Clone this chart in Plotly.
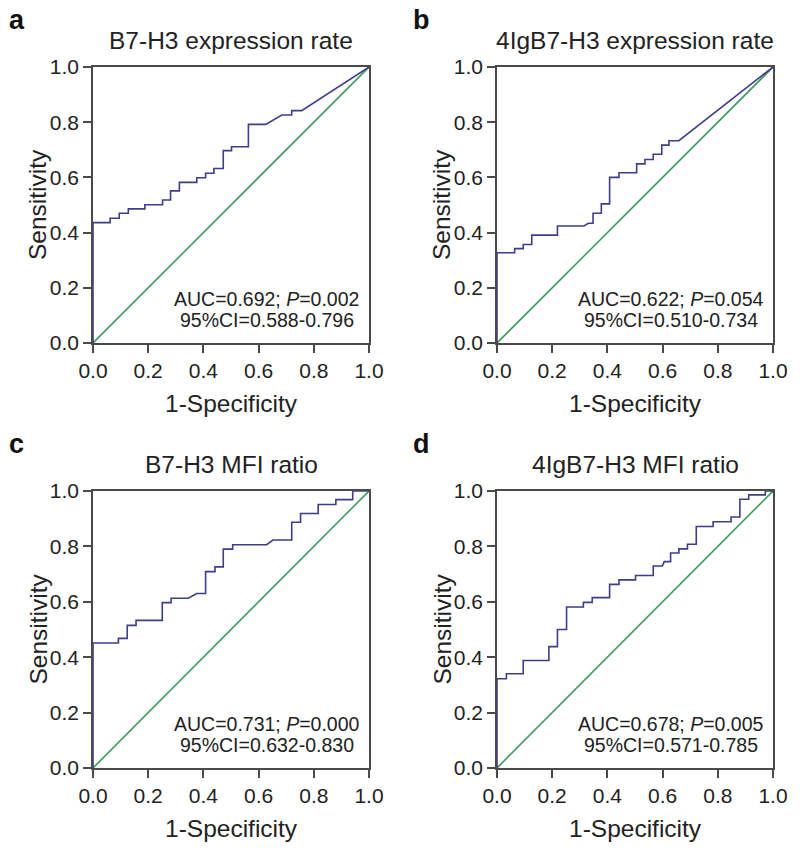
import plotly.graph_objects as go

OFF = 0                      # body margin removed via post_script
W, H = 800, 849

panel_letters = ["a", "b", "c", "d"]
panel_titles = ["B7-H3 expression rate", "4IgB7-H3 expression rate",
                "B7-H3 MFI ratio", "4IgB7-H3 MFI ratio"]
auc_texts = ["AUC=0.692; <i>P</i>=0.002", "AUC=0.622; <i>P</i>=0.054",
             "AUC=0.731; <i>P</i>=0.000", "AUC=0.678; <i>P</i>=0.005"]
ci_texts = ["95%CI=0.588-0.796", "95%CI=0.510-0.734",
            "95%CI=0.632-0.830", "95%CI=0.571-0.785"]
tick_vals = [0.0, 0.2, 0.4, 0.6, 0.8, 1.0]
tick_labels = ["0.0", "0.2", "0.4", "0.6", "0.8", "1.0"]
x_title = "1-Specificity"
y_title = "Sensitivity"

# ROC curve vertices (1-Specificity, Sensitivity)
a_fpr = [0, 0, 0.062, 0.062, 0.095, 0.095, 0.128, 0.128, 0.188, 0.188, 0.252, 0.252,
         0.281, 0.281, 0.313, 0.313, 0.376, 0.376, 0.408, 0.408, 0.438, 0.438, 0.472,
         0.472, 0.502, 0.502, 0.563, 0.563, 0.626, 0.684, 0.720, 0.720, 0.756, 1.0]
a_tpr = [0, 0.436, 0.436, 0.452, 0.452, 0.470, 0.470, 0.486, 0.486, 0.501, 0.501, 0.518,
         0.518, 0.551, 0.551, 0.582, 0.582, 0.599, 0.599, 0.615, 0.615, 0.632, 0.632,
         0.697, 0.697, 0.711, 0.711, 0.792, 0.792, 0.826, 0.826, 0.842, 0.842, 1.0]

b_fpr = [0, 0, 0.064, 0.064, 0.095, 0.095, 0.126, 0.126, 0.219, 0.219, 0.315, 0.331,
         0.348, 0.348, 0.378, 0.378, 0.408, 0.408, 0.442, 0.442, 0.506, 0.506, 0.536,
         0.536, 0.566, 0.566, 0.597, 0.597, 0.623, 0.623, 0.659, 1.0]
b_tpr = [0, 0.327, 0.327, 0.342, 0.342, 0.357, 0.357, 0.391, 0.391, 0.424, 0.424, 0.434,
         0.434, 0.470, 0.470, 0.504, 0.504, 0.600, 0.600, 0.617, 0.617, 0.649, 0.649,
         0.665, 0.665, 0.684, 0.684, 0.717, 0.717, 0.733, 0.733, 1.0]

c_fpr = [0, 0, 0.092, 0.092, 0.124, 0.124, 0.156, 0.156, 0.251, 0.251, 0.283, 0.283,
         0.345, 0.376, 0.376, 0.408, 0.408, 0.442, 0.442, 0.472, 0.472, 0.506, 0.506,
         0.629, 0.652, 0.720, 0.720, 0.752, 0.752, 0.816, 0.816, 0.880, 0.880, 0.941,
         0.941, 1.0]
c_tpr = [0, 0.451, 0.451, 0.468, 0.468, 0.515, 0.515, 0.533, 0.533, 0.597, 0.597, 0.613,
         0.613, 0.630, 0.630, 0.630, 0.709, 0.709, 0.726, 0.726, 0.790, 0.790, 0.806,
         0.806, 0.823, 0.823, 0.887, 0.887, 0.919, 0.919, 0.951, 0.951, 0.969, 0.969,
         1.0, 1.0]

d_fpr = [0, 0, 0.034, 0.034, 0.095, 0.095, 0.188, 0.188, 0.219, 0.219, 0.252, 0.252,
         0.313, 0.313, 0.345, 0.345, 0.408, 0.408, 0.442, 0.442, 0.502, 0.502, 0.566,
         0.566, 0.599, 0.606, 0.629, 0.629, 0.659, 0.659, 0.690, 0.690, 0.722, 0.722,
         0.783, 0.783, 0.848, 0.848, 0.880, 0.880, 0.912, 0.912, 0.972, 0.972, 1.0]
d_tpr = [0, 0.322, 0.322, 0.340, 0.340, 0.388, 0.388, 0.438, 0.438, 0.500, 0.500, 0.581,
         0.581, 0.598, 0.598, 0.615, 0.615, 0.663, 0.663, 0.679, 0.679, 0.695, 0.695,
         0.729, 0.729, 0.745, 0.745, 0.776, 0.776, 0.791, 0.791, 0.808, 0.808, 0.872,
         0.872, 0.889, 0.889, 0.906, 0.906, 0.970, 0.970, 0.986, 0.986, 1.0, 1.0]

ref_x = [0, 1]
ref_y = [0, 1]

curves = [(a_fpr, a_tpr), (b_fpr, b_tpr), (c_fpr, c_tpr), (d_fpr, d_tpr)]

# plot-area pixel boxes in window pixels: (left, right, top, bottom)
boxes = [(93, 369, 67, 343), (497, 773, 67, 343),
         (93, 369, 491, 768), (497, 773, 491, 768)]

CURVE = "#3d3d8a"
DIAG = "#3f9a5e"
AXIS = "#4a4a4a"
FONT = "Liberation Sans, Arial, sans-serif"

fig = go.Figure()
layout = dict(width=W, height=H,
              margin=dict(l=0, r=0, t=0, b=0, pad=0, autoexpand=False),
              paper_bgcolor="white", plot_bgcolor="white", showlegend=False,
              font=dict(family=FONT, color="#222222"))
annotations = []


def px(x):
    return (x - OFF) / W


def py(y):
    return 1 - (y - OFF) / H


for i, ((fx, ty), (l, r, t, b)) in enumerate(zip(curves, boxes)):
    n = "" if i == 0 else str(i + 1)
    xa, ya = "x" + n, "y" + n
    fig.add_trace(go.Scatter(x=ref_x, y=ref_y, mode="lines", xaxis=xa, yaxis=ya,
                             line=dict(color=DIAG, width=1.6), hoverinfo="skip"))
    fig.add_trace(go.Scatter(x=fx, y=ty, mode="lines", xaxis=xa, yaxis=ya,
                             line=dict(color=CURVE, width=1.6)))
    axis_common = dict(range=[0, 1], tickvals=tick_vals, ticktext=tick_labels,
                       showgrid=False, zeroline=False, showline=True, mirror=True,
                       linecolor=AXIS, linewidth=1.5, ticks="outside", ticklen=8,
                       tickwidth=1.5, tickcolor=AXIS, automargin=False,
                       tickfont=dict(size=21, family=FONT, color="#222222"),
                       fixedrange=True)
    layout["xaxis" + n] = dict(axis_common, domain=[px(l), px(r)], anchor=ya)
    layout["yaxis" + n] = dict(axis_common, domain=[py(b), py(t)], anchor=xa)
    cx = (l + r) / 2
    cy = (t + b) / 2
    # title
    annotations.append(dict(text=panel_titles[i], x=px(cx), y=py(t - 27), xref="paper",
                            yref="paper", showarrow=False, xanchor="center",
                            yanchor="middle", font=dict(size=24.5, family=FONT, color="#222")))
    # letter
    annotations.append(dict(text="<b>" + panel_letters[i] + "</b>", x=px(l - 86),
                            y=py(t - 47), xref="paper", yref="paper", showarrow=False,
                            xanchor="left", yanchor="middle",
                            font=dict(size=27, family=FONT, color="#111")))
    # x title
    annotations.append(dict(text=x_title, x=px(cx), y=py(b + 60), xref="paper",
                            yref="paper", showarrow=False, xanchor="center",
                            yanchor="middle", font=dict(size=24.5, family=FONT, color="#222")))
    # y title
    annotations.append(dict(text=y_title, x=px(l - 55), y=py(cy), xref="paper",
                            yref="paper", showarrow=False, xanchor="center",
                            yanchor="middle", textangle=-90,
                            font=dict(size=24.5, family=FONT, color="#222")))
    # AUC text
    annotations.append(dict(text=auc_texts[i], x=0.63, y=0.158, xref=xa, yref=ya,
                            showarrow=False, xanchor="center", yanchor="middle",
                            font=dict(size=19.5, family=FONT, color="#222")))
    annotations.append(dict(text=ci_texts[i], x=0.63, y=0.082, xref=xa, yref=ya,
                            showarrow=False, xanchor="center", yanchor="middle",
                            font=dict(size=19.5, family=FONT, color="#222")))

layout["annotations"] = annotations
fig.update_layout(**layout)
fig.write_html("out.html", config={"displayModeBar": False},
               post_script="document.body.style.margin='0';document.body.style.padding='0';")
